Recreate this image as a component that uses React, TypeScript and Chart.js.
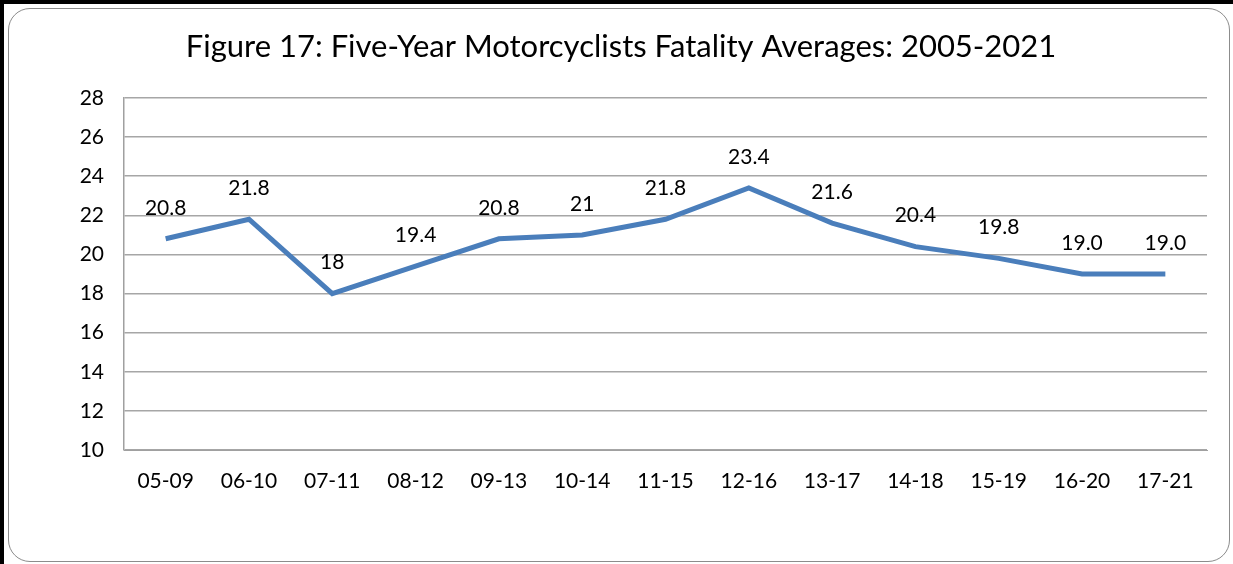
import React, { useEffect, useRef } from "react";
import { Chart, registerables } from "chart.js";

Chart.register(...registerables);

const categories: string[] = ["05-09", "06-10", "07-11", "08-12", "09-13", "10-14", "11-15", "12-16", "13-17", "14-18", "15-19", "16-20", "17-21"];
const averages: number[] = [20.8, 21.8, 18, 19.4, 20.8, 21, 21.8, 23.4, 21.6, 20.4, 19.8, 19.0, 19.0];
const pointLabels: string[] = ["20.8", "21.8", "18", "19.4", "20.8", "21", "21.8", "23.4", "21.6", "20.4", "19.8", "19.0", "19.0"];
const titleText = "Figure 17: Five-Year Motorcyclists Fatality Averages: 2005-2021";

const FONT = "Lato, 'Open Sans', sans-serif";

const overlayPlugin = {
  id: "overlay",
  afterDatasetsDraw(chart: any) {
    const ctx = chart.ctx;
    const meta = chart.getDatasetMeta(0);
    ctx.save();
    ctx.fillStyle = "#000000";
    ctx.font = `21px ${FONT}`;
    ctx.textAlign = "center";
    ctx.textBaseline = "middle";
    meta.data.forEach((pt: any, i: number) => {
      ctx.fillText(pointLabels[i], pt.x, pt.y - 31);
    });
    ctx.font = `31px ${FONT}`;
    ctx.fillText(titleText, 621, 47);
    ctx.restore();
  },
};

export default function App() {
  const ref = useRef<HTMLCanvasElement | null>(null);
  useEffect(() => {
    if (!ref.current) return;
    const chart = new Chart(ref.current, {
      type: "line",
      data: {
        labels: categories,
        datasets: [
          {
            data: averages,
            borderColor: "#4a7ebb",
            borderWidth: 5,
            pointRadius: 0,
            tension: 0,
            fill: false,
          },
        ],
      },
      options: {
        animation: false,
        responsive: false,
        maintainAspectRatio: false,
        layout: { padding: { left: 0, right: 26, top: 98, bottom: 0 } },
        plugins: { legend: { display: false }, tooltip: { enabled: false }, title: { display: false } },
        scales: {
          x: {
            offset: true,
            grid: { display: false, drawTicks: false },
            border: { color: "#a0a0a0", width: 1 },
            ticks: { color: "#000", font: { family: FONT, size: 21 }, padding: 19, maxRotation: 0, autoSkip: false },
            afterFit(scale: any) {
              scale.height = 114;
            },
          },
          y: {
            min: 10,
            max: 28,
            ticks: { stepSize: 2, color: "#000", font: { family: FONT, size: 21 }, padding: 20 },
            grid: { color: "#a6a6a6", lineWidth: 1.5, drawTicks: false },
            border: { color: "#a0a0a0", width: 1.5 },
            afterFit(scale: any) {
              scale.width = 124;
            },
          },
        },
      },
      plugins: [overlayPlugin],
    });
    return () => chart.destroy();
  }, []);

  return (
    <div style={{ position: "absolute", left: 0, top: 0, width: 1233, height: 564, background: "#fff", overflow: "hidden" }}>
      <div style={{ position: "absolute", left: 0, top: 0, width: 1233, height: 4, background: "#000" }} />
      <div style={{ position: "absolute", left: 0, top: 0, width: 4, height: 564, background: "#000" }} />
      <div
        style={{
          position: "absolute",
          left: 8,
          top: 8,
          width: 1230 - 8,
          height: 562 - 8,
          border: "1.5px solid #8c8c8c",
          borderRadius: 22,
          boxSizing: "border-box",
        }}
      />
      <canvas ref={ref} width={1233} height={564} style={{ position: "absolute", left: 0, top: 0 }} />
    </div>
  );
}
